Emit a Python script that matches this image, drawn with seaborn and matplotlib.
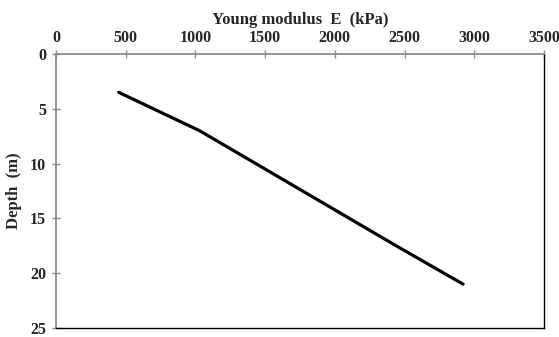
import matplotlib
matplotlib.use("Agg")
import matplotlib.pyplot as plt
import seaborn as sns
import pandas as pd

# Young's modulus profile with depth
depth_m = [3.5, 7.0, 10.5, 14.0, 17.5, 21.0]
young_kpa = [450, 1030, 1500, 1970, 2440, 2920]
x_ticks = [0, 500, 1000, 1500, 2000, 2500, 3000, 3500]
y_ticks = [0, 5, 10, 15, 20, 25]

sns.set_style("white")
plt.rcParams["font.family"] = ["Liberation Serif", "DejaVu Serif"]
plt.rcParams["font.weight"] = "bold"

df = pd.DataFrame({"E": young_kpa, "Depth": depth_m})

fig = plt.figure(figsize=(5.59, 3.37), dpi=100)
ax = fig.add_axes([56 / 559, 9 / 337, 488 / 559, 274 / 337])

sns.lineplot(data=df, x="E", y="Depth", sort=False, color="black",
             linewidth=2.3, ax=ax)

ax.set_xlim(0, 3500)
ax.set_ylim(25, 0)
ax.set_xticks(x_ticks)
ax.set_yticks(y_ticks)
ax.xaxis.tick_top()
ax.xaxis.set_label_position("top")

gray = "#8c8c8c"
ax.spines["top"].set_color(gray)
ax.spines["left"].set_color(gray)
ax.spines["top"].set_linewidth(1.3)
ax.spines["left"].set_linewidth(1.3)
ax.spines["right"].set_color("black")
ax.spines["bottom"].set_color("black")
ax.spines["right"].set_linewidth(1.0)
ax.spines["bottom"].set_linewidth(1.0)

ax.tick_params(axis="x", which="both", top=True, bottom=False, direction="inout",
               length=6, width=1.0, color=gray, labelsize=11.5, pad=3)
ax.tick_params(axis="y", which="both", left=True, right=False, direction="inout",
               length=6, width=1.0, color=gray, labelsize=11.5, pad=4)
for lab in ax.get_xticklabels() + ax.get_yticklabels():
    lab.set_fontweight("bold")

ax.set_xlabel("Young modulus  E  (kPa)", fontsize=12, fontweight="bold", labelpad=4)
ax.set_ylabel("Depth  (m)", fontsize=12, fontweight="bold", labelpad=6)

fig.savefig("out.png", dpi=100)
